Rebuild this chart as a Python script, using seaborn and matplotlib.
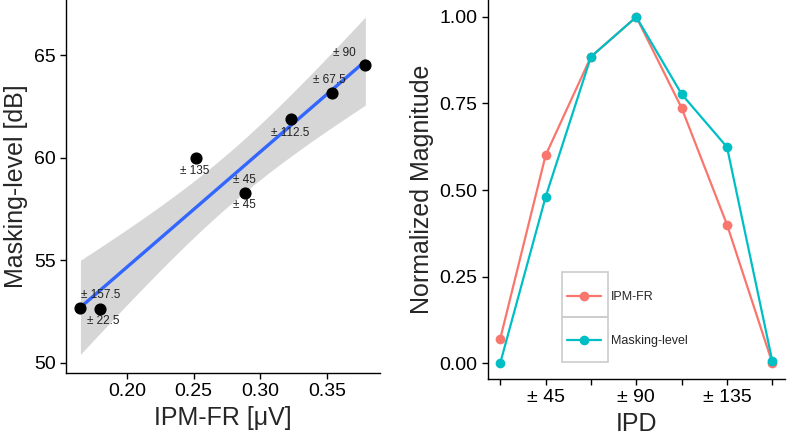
import numpy as np
import pandas as pd
import matplotlib.pyplot as plt
import seaborn as sns
from matplotlib.patches import Rectangle

# 左パネル: IPM-FR と Masking-level
ipm_fr = [0.379, 0.354, 0.323, 0.2515, 0.2887, 0.1648, 0.1798]
masking = [64.51, 63.14, 61.91, 60.0, 58.28, 52.65, 52.6]
point_labels = ["± 90", "± 67.5", "± 112.5", "± 135", "± 45", "± 157.5", "± 22.5"]

# 右パネル: IPD ごとの正規化値
ipd = ["± 22.5", "± 45", "± 67.5", "± 90", "± 112.5", "± 135", "± 157.5"]
ipd_ticklabels = ["", "± 45", "", "± 90", "", "± 135", ""]
norm_ipm = [0.07, 0.60, 0.885, 1.00, 0.737, 0.40, 0.0]
norm_mask = [0.0, 0.48, 0.885, 1.00, 0.777, 0.624, 0.005]

# ラベルの位置 (pixel offset)
label_offsets = {
    "± 90": [(-21, 12)],
    "± 67.5": [(-3, 13)],
    "± 112.5": [(-1, -14)],
    "± 135": [(-1, -13)],
    "± 45": [(-1, 13), (-1, -12)],
    "± 157.5": [(20, 13)],
    "± 22.5": [(3, -12)],
}

sns.set_theme(style="ticks")
plt.rcParams["font.family"] = ["Liberation Sans", "DejaVu Sans"]

fig = plt.figure(figsize=(7.89, 4.38), dpi=100)
ax1 = fig.add_axes([0.0837, 0.1484, 0.3979, 0.8516])
ax2 = fig.add_axes([0.6185, 0.1347, 0.3765, 0.8653])

left = pd.DataFrame({"x": ipm_fr, "y": masking, "label": point_labels})

# 95% 信頼区間 (線形回帰, t 分布)
x = left["x"].to_numpy()
y = left["y"].to_numpy()
n = len(x)
b, a = np.polyfit(x, y, 1)
resid = y - (a + b * x)
s = np.sqrt((resid ** 2).sum() / (n - 2))
grid = np.linspace(x.min(), x.max(), 100)
se = s * np.sqrt(1 / n + (grid - x.mean()) ** 2 / ((x - x.mean()) ** 2).sum())
t_crit = 2.5706  # t(0.975, df=5)
fit = a + b * grid
ax1.fill_between(grid, fit - t_crit * se, fit + t_crit * se,
                 color="#999999", alpha=0.4, lw=0, zorder=1)
sns.regplot(data=left, x="x", y="y", ax=ax1, ci=None,
            scatter=False, truncate=True,
            line_kws={"color": "#3366FF", "lw": 2.4, "zorder": 2})
ax1.scatter(left["x"], left["y"], s=60, color="black", zorder=4)
for _, r in left.iterrows():
    for dx, dy in label_offsets[r["label"]]:
        ax1.annotate(r["label"], (r["x"], r["y"]), xytext=(dx, dy),
                     textcoords="offset pixels", ha="center", va="center",
                     fontsize=8.5, color="#222222")
ax1.set_xlim(0.154, 0.39)
ax1.set_ylim(49.5, 67.7)
ax1.set_xticks([0.20, 0.25, 0.30, 0.35])
ax1.set_xticklabels(["0.20", "0.25", "0.30", "0.35"])
ax1.set_yticks([50, 55, 60, 65])
ax1.set_xlabel("IPM-FR [μV]", fontsize=18)
ax1.set_ylabel("Masking-level [dB]", fontsize=18)

right = pd.DataFrame({
    "pos": list(range(len(ipd))) * 2,
    "value": norm_ipm + norm_mask,
    "measure": ["IPM-FR"] * len(ipd) + ["Masking-level"] * len(ipd),
})
sns.lineplot(data=right, x="pos", y="value", hue="measure",
             palette=["#F8766D", "#00BFC4"], marker="o", markersize=7,
             markeredgewidth=0, lw=1.6, ax=ax2)
ax2.set_xlim(-0.27, 6.28)
ax2.set_ylim(-0.046, 1.049)
ax2.set_xticks(range(len(ipd)))
ax2.set_xticklabels(ipd_ticklabels)
ax2.set_yticks([0, 0.25, 0.5, 0.75, 1.0])
ax2.set_yticklabels(["0.00", "0.25", "0.50", "0.75", "1.00"])
ax2.set_xlabel("IPD", fontsize=18)
ax2.set_ylabel("Normalized Magnitude", fontsize=18)
ax2.legend(title=None, frameon=False, fontsize=9,
           loc="upper left", bbox_to_anchor=(567 / 789, 1 - 291 / 438),
           bbox_transform=fig.transFigure,
           handlelength=2.7, labelspacing=2.55, borderpad=0, borderaxespad=0,
           handletextpad=0.8)

# 凡例キーの枠
for y0 in [272, 317]:
    fig.patches.append(Rectangle((562 / 789, 1 - (y0 + 45) / 438), 46 / 789, 45 / 438,
                                 transform=fig.transFigure, fill=False,
                                 edgecolor="#cccccc", lw=1.2))

for ax in (ax1, ax2):
    sns.despine(ax=ax)
    ax.tick_params(labelsize=14, colors="black", length=4, width=1)
    for sp in ("left", "bottom"):
        ax.spines[sp].set_color("black")
        ax.spines[sp].set_linewidth(1)

fig.savefig("out.png", dpi=100)
